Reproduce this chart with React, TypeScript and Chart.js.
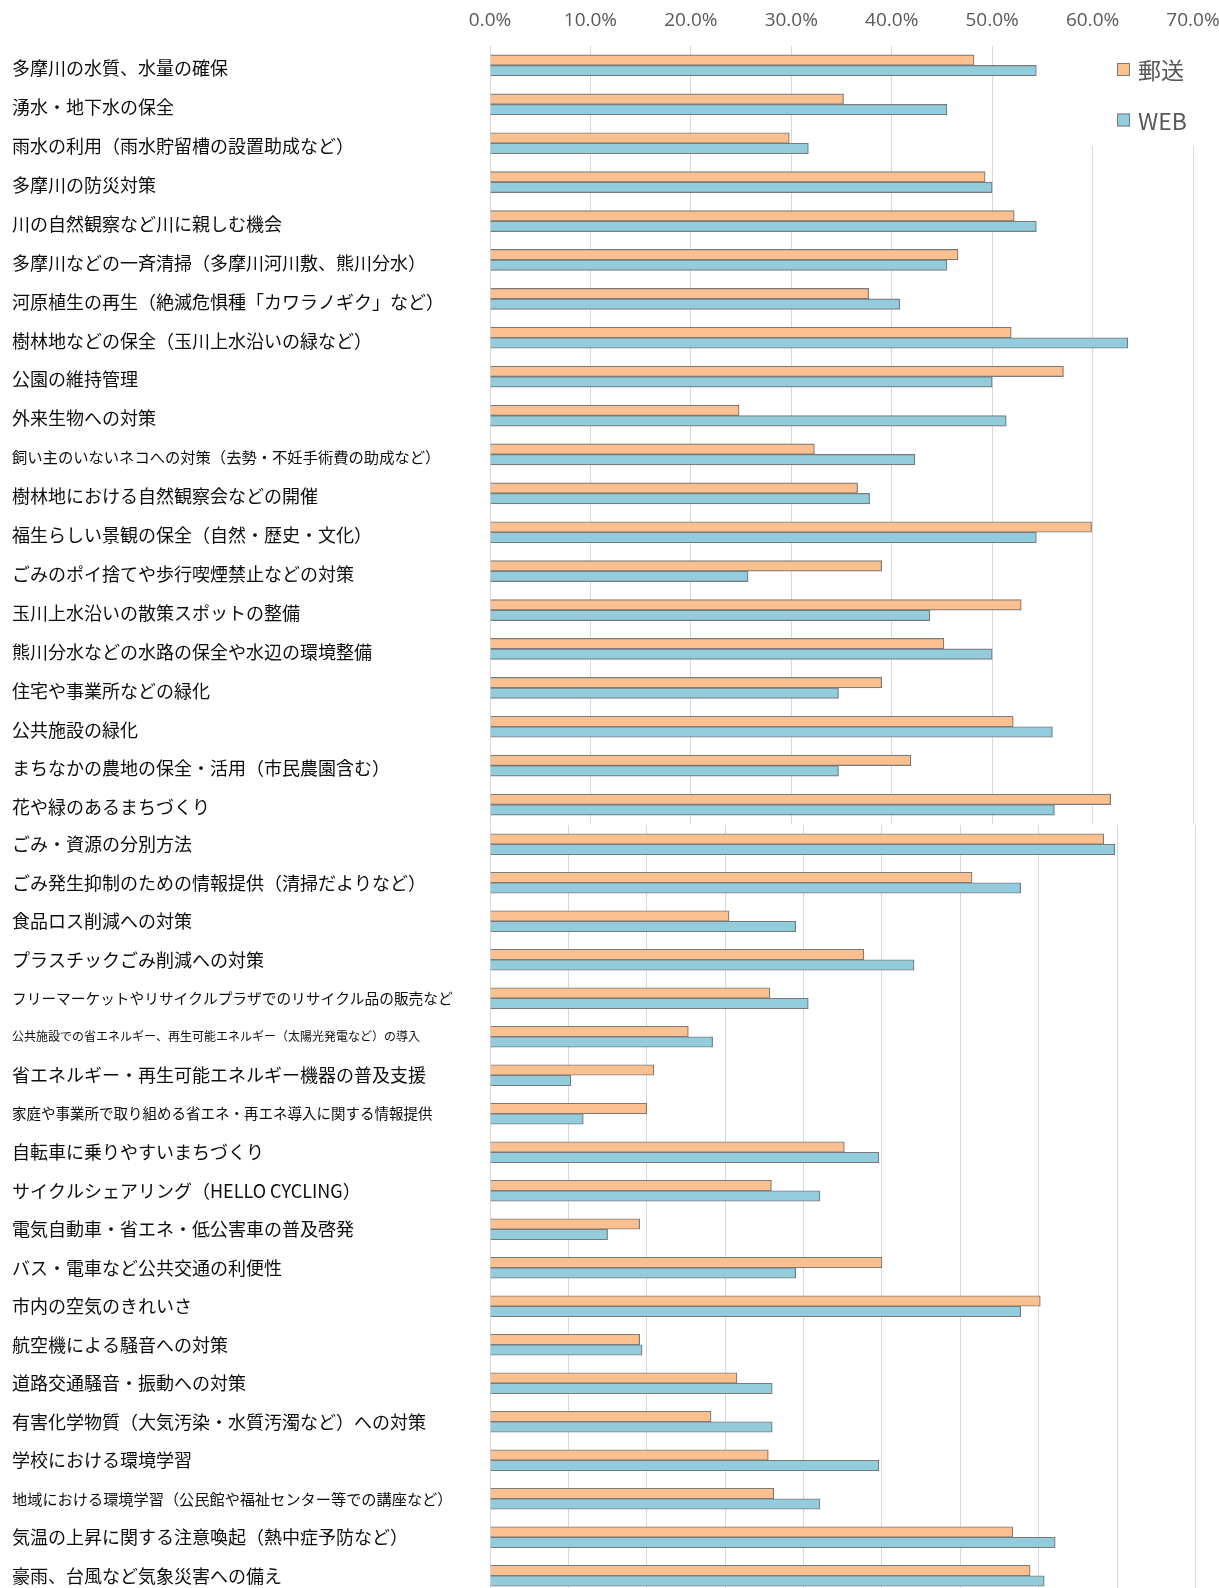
import React, { useEffect, useRef } from 'react';
import { Chart, registerables } from 'chart.js';

Chart.register(...registerables);

// ---------- DATA ----------
const topCategories = [
  '多摩川の水質、水量の確保',
  '湧水・地下水の保全',
  '雨水の利用（雨水貯留槽の設置助成など）',
  '多摩川の防災対策',
  '川の自然観察など川に親しむ機会',
  '多摩川などの一斉清掃（多摩川河川敷、熊川分水）',
  '河原植生の再生（絶滅危惧種「カワラノギク」など）',
  '樹林地などの保全（玉川上水沿いの緑など）',
  '公園の維持管理',
  '外来生物への対策',
  '飼い主のいないネコへの対策（去勢・不妊手術費の助成など）',
  '樹林地における自然観察会などの開催',
  '福生らしい景観の保全（自然・歴史・文化）',
  'ごみのポイ捨てや歩行喫煙禁止などの対策',
  '玉川上水沿いの散策スポットの整備',
  '熊川分水などの水路の保全や水辺の環境整備',
  '住宅や事業所などの緑化',
  '公共施設の緑化',
  'まちなかの農地の保全・活用（市民農園含む）',
  '花や緑のあるまちづくり',
];
const topPostal = [48.2, 35.2, 29.8, 49.3, 52.2, 46.6, 37.7, 51.9, 57.1, 24.8, 32.3, 36.6, 59.9, 39.0, 52.9, 45.2, 39.0, 52.1, 41.9, 61.8];
const topWeb = [54.4, 45.5, 31.7, 50.0, 54.4, 45.5, 40.8, 63.5, 50.0, 51.4, 42.3, 37.8, 54.4, 25.7, 43.8, 50.0, 34.7, 56.0, 34.7, 56.2];

const bottomCategories = [
  'ごみ・資源の分別方法',
  'ごみ発生抑制のための情報提供（清掃だよりなど）',
  '食品ロス削減への対策',
  'プラスチックごみ削減への対策',
  'フリーマーケットやリサイクルプラザでのリサイクル品の販売など',
  '公共施設での省エネルギー、再生可能エネルギー（太陽光発電など）の導入',
  '省エネルギー・再生可能エネルギー機器の普及支援',
  '家庭や事業所で取り組める省エネ・再エネ導入に関する情報提供',
  '自転車に乗りやすいまちづくり',
  'サイクルシェアリング（HELLO CYCLING）',
  '電気自動車・省エネ・低公害車の普及啓発',
  'バス・電車など公共交通の利便性',
  '市内の空気のきれいさ',
  '航空機による騒音への対策',
  '道路交通騒音・振動への対策',
  '有害化学物質（大気汚染・水質汚濁など）への対策',
  '学校における環境学習',
  '地域における環境学習（公民館や福祉センター等での講座など）',
  '気温の上昇に関する注意喚起（熱中症予防など）',
  '豪雨、台風など気象災害への備え',
];
const bottomPostal = [78.3, 61.5, 30.5, 47.7, 35.7, 25.3, 20.9, 20.0, 45.2, 35.9, 19.1, 50.0, 70.2, 19.1, 31.5, 28.2, 35.5, 36.2, 66.7, 68.9];
const bottomWeb = [79.7, 67.7, 39.0, 54.1, 40.6, 28.4, 10.3, 11.9, 49.6, 42.1, 15.0, 39.0, 67.7, 19.4, 36.0, 36.0, 49.6, 42.1, 72.1, 70.7];

const seriesNames = ['郵送', 'WEB'];
const topTickLabels = ['0.0%', '10.0%', '20.0%', '30.0%', '40.0%', '50.0%', '60.0%', '70.0%'];

// ---------- STYLE ----------
const ORANGE = '#FAC090';
const BLUE = '#93CDDD';
const BORDER = '#7A7A7A';
const GRID = '#D9D9D9';
const LABEL_FONT = '"Noto Sans CJK JP", "Noto Sans", sans-serif';
const AXIS_FONT = '"Liberation Sans Narrow", "Open Sans", sans-serif';

const topLabelSizes = topCategories.map((_, i) => (i === 10 ? 15.3 : 18));
const bottomLabelSizes = bottomCategories.map((_, i) => {
  if (i === 4) return 14.7;
  if (i === 5) return 12;
  if (i === 7) return 14.5;
  if (i === 17) return 15.2;
  return 18;
});

const legendPlugin = {
  id: 'customLegend',
  beforeDatasetsDraw(chart: any) {
    const ctx = chart.ctx;
    ctx.save();
    ctx.fillStyle = '#ffffff';
    ctx.fillRect(1062, chart.chartArea.top - 1, 1219 - 1062, 147 - chart.chartArea.top);
    ctx.restore();
  },
  afterDraw(chart: any) {
    const ctx = chart.ctx;
    ctx.save();
    const items = [
      { name: seriesNames[0], color: ORANGE, y: 69.5 },
      { name: seriesNames[1], color: BLUE, y: 120 },
    ];
    items.forEach((it) => {
      ctx.fillStyle = it.color;
      ctx.fillRect(1117, it.y - 6.5, 13, 13);
      ctx.strokeStyle = BORDER;
      ctx.lineWidth = 1;
      ctx.strokeRect(1117.5, it.y - 6, 12, 12);
      ctx.fillStyle = '#595959';
      ctx.font = `23px ${LABEL_FONT}`;
      ctx.textBaseline = 'middle';
      ctx.textAlign = 'left';
      ctx.fillText(it.name, 1138, it.y + 1);
    });
    ctx.restore();
  },
};

function makeConfig(
  labels: string[],
  postal: number[],
  web: number[],
  sizes: number[],
  isTop: boolean
): any {
  return {
    type: 'bar',
    data: {
      labels,
      datasets: [
        {
          label: seriesNames[0],
          data: postal,
          backgroundColor: ORANGE,
          borderColor: BORDER,
          borderWidth: 1.2,
          barThickness: 10.5,
        },
        {
          label: seriesNames[1],
          data: web,
          backgroundColor: BLUE,
          borderColor: BORDER,
          borderWidth: 1.2,
          barThickness: 10.5,
        },
      ],
    },
    options: {
      indexAxis: 'y',
      responsive: false,
      animation: false,
      devicePixelRatio: 1,
      layout: {
        padding: isTop
          ? { left: 12, right: 26, top: 0, bottom: 1 }
          : { left: 12, right: 23.5, top: 0, bottom: 0 },
      },
      plugins: {
        legend: { display: false },
        tooltip: { enabled: false },
      },
      scales: {
        x: {
          position: isTop ? 'top' : 'bottom',
          min: 0,
          max: isTop ? 70 : 90,
          ticks: {
            display: isTop,
            stepSize: 10,
            callback: (v: any, i: number) => topTickLabels[i] ?? `${Number(v).toFixed(1)}%`,
            font: { family: AXIS_FONT, size: 19 },
            color: '#595959',
            padding: 14,
          },
          grid: { color: GRID, lineWidth: 1, drawTicks: false },
          border: { display: false },
          afterFit: (s: any) => {
            s.height = isTop ? 46 : 0;
            s.paddingLeft = 0;
            s.paddingRight = 0;
          },
        },
        y: {
          ticks: {
            crossAlign: 'far',
            autoSkip: false,
            color: '#0d0d0d',
            labelOffset: isTop ? 3 : 0,
            font: (c: any) => ({ family: LABEL_FONT, size: sizes[c.index] ?? 18 }),
          },
          grid: { display: false },
          border: { display: false },
          afterFit: (s: any) => {
            s.width = 478;
            s.paddingTop = 0;
            s.paddingBottom = 0;
          },
        },
      },
    },
    plugins: isTop ? [legendPlugin] : [],
  };
}

export default function App() {
  const topRef = useRef<HTMLCanvasElement | null>(null);
  const botRef = useRef<HTMLCanvasElement | null>(null);

  useEffect(() => {
    document.body.style.margin = '0';
    const c1 = new Chart(topRef.current as HTMLCanvasElement, makeConfig(topCategories, topPostal, topWeb, topLabelSizes, true));
    const c2 = new Chart(botRef.current as HTMLCanvasElement, makeConfig(bottomCategories, bottomPostal, bottomWeb, bottomLabelSizes, false));
    return () => {
      c1.destroy();
      c2.destroy();
    };
  }, []);

  return (
    <div style={{ position: 'absolute', left: 0, top: 0, width: 1219, height: 1588, overflow: 'hidden', background: '#ffffff' }}>
      <canvas ref={topRef} width={1219} height={825} style={{ position: 'absolute', left: 0, top: 0 }} />
      <canvas ref={botRef} width={1219} height={770} style={{ position: 'absolute', left: 0, top: 825 }} />
    </div>
  );
}
